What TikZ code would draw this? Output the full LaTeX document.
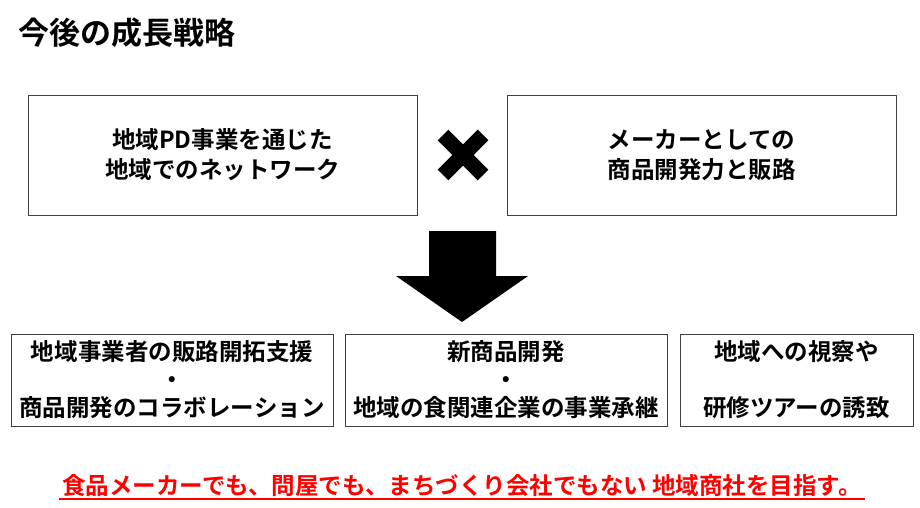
\documentclass[tikz,border=0pt]{standalone}
\usepackage{fontspec}
\setmainfont{Noto Sans CJK JP}[BoldFont={Noto Sans CJK JP Bold}]
\definecolor{boxgray}{HTML}{404040}
\definecolor{alertred}{HTML}{FF0000}
\begin{document}
\begin{tikzpicture}[x=1pt, y=-1pt,
    box/.style={draw=boxgray, line width=0.8pt, align=center, inner sep=0pt},
    topbox/.style={box, minimum width=389pt, minimum height=120pt, font=\bfseries\fontsize{23.5}{30}\selectfont},
    lowbox/.style={box, minimum height=92pt, font=\bfseries\fontsize{23.5}{28}\selectfont}]
    \useasboundingbox (0,0) rectangle (920,508);
    \node[anchor=west, inner sep=0pt, font=\bfseries\fontsize{31}{34}\selectfont] (title) at (18,33) {今後の成長戦略};
    % two strengths
    \node[topbox] (network) at (222.5,155) {地域PD事業を通じた\\地域でのネットワーク};
    \node[topbox] (maker) at (701.5,155) {メーカーとしての\\商品開発力と販路};
    \draw[line width=15pt] (443,135) -- (483,175);
    \draw[line width=15pt] (483,135) -- (443,175);
    % big arrow
    \fill (429,231) -- (496,231) -- (496,276) -- (528,276) -- (462,322) -- (396,276) -- (429,276) -- cycle;
    % three actions
    \node[lowbox, minimum width=322pt] (support) at (172,380) {地域事業者の販路開拓支援\\・\\商品開発のコラボレーション};
    \node[lowbox, minimum width=322pt] (newprod) at (506,380) {新商品開発\\・\\地域の食関連企業の事業承継};
    \node[lowbox, minimum width=233pt] (tour) at (796.5,380) {地域への視察や\\[28pt]研修ツアーの誘致};
    \node[inner sep=0pt, text=alertred, font=\bfseries\fontsize{23.5}{26}\selectfont] (goal) at (462,486) {食品メーカーでも、問屋でも、まちづくり会社でもない 地域商社を目指す。};
    \draw[draw=alertred, line width=1.6pt] ([xshift=-3pt,yshift=-2pt]goal.south west) -- ([xshift=3pt,yshift=-2pt]goal.south east);
\end{tikzpicture}
\end{document}
